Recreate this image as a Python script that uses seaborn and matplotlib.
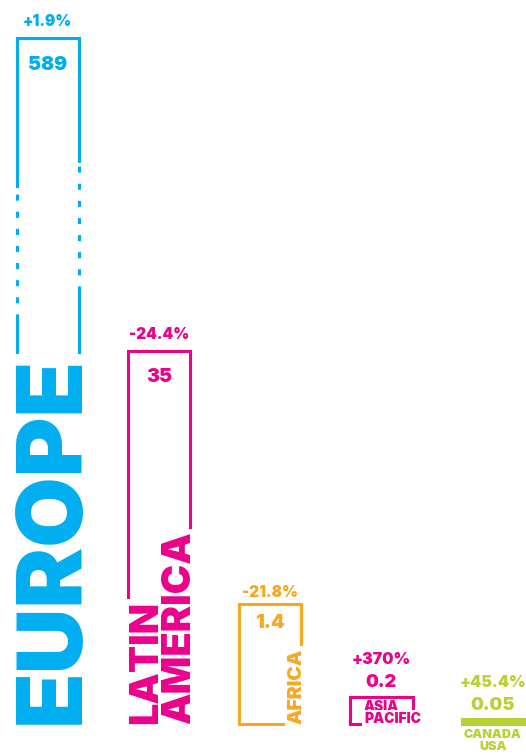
import matplotlib
matplotlib.use("Agg")
import matplotlib.pyplot as plt
import seaborn as sns

# =========== DATA ===========
regions = ["Europe", "Latin America", "Africa", "Asia Pacific", "Canada USA"]
values = ["589", "35", "1.4", "0.2", "0.05"]
changes = ["+1.9%", "-24.4%", "-21.8%", "+370%", "+45.4%"]
# heights as drawn in the graphic (not to scale, Europe bar is broken)
drawn = [686, 373, 120, 27, 5]
colors = ["#00aeef", "#ec008c", "#f7a823", "#ec008c", "#b5d334"]

sns.set_theme(style="white")
plt.rcParams['font.family'] = ['Inter', 'DejaVu Sans']
W = 900
LW = 2.2

fig = plt.figure(figsize=(5.26, 7.55), dpi=100)
ax = fig.add_axes([0, 0, 1, 1])
sns.barplot(x=regions, y=drawn, hue=regions, palette=colors, legend=False,
            fill=False, width=0.56, linewidth=LW, saturation=1,
            errorbar=None, ax=ax)
ax.set_xlim(-0.43, 4.30)
ax.set_ylim(-31, 724)
ax.axis('off')

bars = sorted(ax.patches, key=lambda p: p.get_x())
for p, c in zip(bars, colors):
    p.set_edgecolor(c)
    p.set_clip_on(False)
bars[4].set_facecolor(colors[4])
bars[4].set_fill(True)

def box(p):
    return p.get_x(), p.get_x() + p.get_width(), p.get_height()

# =========== ETIQUETAS EM CIMA ===========
offs_change = [12, 12, 8.5, 27, 26]
offs_value = [-19.5, -19, -13.5, 10.5, 9.5]
for i, p in enumerate(bars):
    x0, x1, h = box(p)
    xc = (x0 + x1) / 2
    big = i < 3
    ax.annotate(changes[i], (xc, h), xytext=(0, offs_change[i]),
                textcoords='offset points', ha='center', va='center',
                fontsize=11 if big else 11.5, fontweight=W, color=colors[i])
    ax.annotate(values[i], (xc, h), xytext=(0, offs_value[i]),
                textcoords='offset points', ha='center', va='center',
                fontsize=14 if big else 13, fontweight=W, color=colors[i])

# =========== QUEBRA DA BARRA EUROPA ===========
x0, x1, h = box(bars[0])
for x, ya, yb in [(x0, 404, 536), (x1, 432, 561)]:
    ax.plot([x, x], [ya, yb], color='white', lw=LW + 2, solid_capstyle='butt', zorder=3)
    ax.plot([x, x], [ya, yb], color=colors[0], lw=LW, dashes=(2, 3.6), zorder=4)

white = dict(facecolor='white', edgecolor='none', pad=1.5)

# =========== NOMES DAS REGIOES ===========
ax.text(x1, 0, "EUROPE", rotation=90, rotation_mode='anchor', ha='left',
        va='baseline', fontsize=65.5, fontweight=W, color=colors[0],
        bbox=white, zorder=5)

x0, x1, h = box(bars[1])
ax.text((x0 + x1) / 2 - 0.02, 0, "LATIN", rotation=90, rotation_mode='anchor',
        ha='left', va='baseline', fontsize=28.5, fontweight=W, color=colors[1],
        bbox=white, zorder=5)
ax.text(x1, 0, "AMERICA", rotation=90, rotation_mode='anchor',
        ha='left', va='baseline', fontsize=28.5, fontweight=W, color=colors[1],
        bbox=white, zorder=6)

x0, x1, h = box(bars[2])
ax.text(x1, 0, "AFRICA", rotation=90, rotation_mode='anchor',
        ha='left', va='baseline', fontsize=14, fontweight=W, color=colors[2],
        bbox=white, zorder=5)

x0, x1, h = box(bars[3])
ax.annotate("ASIA", (x0, 0), xytext=(10, 9.5), textcoords='offset points',
            ha='left', va='baseline', fontsize=10, fontweight=W, color=colors[3])
ax.annotate("PACIFIC", (x0, 0), xytext=(10, 0.5), textcoords='offset points',
            ha='left', va='baseline', fontsize=10, fontweight=W, color=colors[3],
            bbox=white, zorder=5)

x0, x1, h = box(bars[4])
ax.annotate("CANADA", ((x0 + x1) / 2, 0), xytext=(0, -8), textcoords='offset points',
            ha='center', va='center', fontsize=9, fontweight=W, color=colors[4])
ax.annotate("USA", ((x0 + x1) / 2, 0), xytext=(0, -16.5), textcoords='offset points',
            ha='center', va='center', fontsize=9, fontweight=W, color=colors[4])

fig.savefig("out.png", dpi=100, facecolor='white')
